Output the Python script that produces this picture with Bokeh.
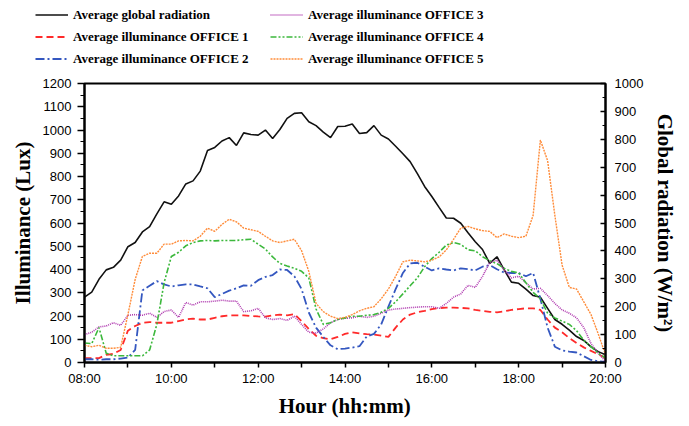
from bokeh.plotting import figure
from bokeh.layouts import column, row
from bokeh.models import Range1d, LinearAxis, FixedTicker, Legend, LegendItem
from bokeh.embed import file_html
from bokeh.resources import INLINE

# sample times (10-minute grid)
times = [f"{h:02d}:{m:02d}" for h in range(8, 20) for m in range(0, 60, 10)] + ["20:00"]

# Average global radiation (W/m2)
radiation = [234, 252, 298, 332, 341, 367,
             415, 430, 468, 487, 533, 576,
             567, 597, 640, 651, 686, 760,
             771, 794, 806, 778, 823, 817,
             815, 833, 803, 835, 875, 893,
             895, 863, 849, 826, 806, 846,
             847, 855, 821, 824, 849, 815,
             801, 775, 748, 720, 677, 631,
             595, 556, 518, 517, 499, 465,
             433, 405, 355, 379, 332, 288,
             284, 263, 240, 234, 194, 154,
             137, 116, 93, 79, 56, 39,
             28]

# Average illuminance (Lux)
office1 = [19, 19, 19, 33, 37, 54,
           137, 157, 171, 174, 171, 171,
           171, 178, 185, 189, 185, 185,
           192, 199, 203, 203, 203, 200,
           198, 197, 203, 206, 203, 208,
           178, 144, 115, 105, 100, 110,
           123, 130, 125, 122, 120, 116,
           110, 150, 185, 206, 216, 222,
           230, 234, 236, 236, 235, 233,
           226, 222, 218, 216, 220, 226,
           230, 233, 233, 226, 185, 150,
           130, 105, 84, 65, 50, 35,
           20]

office2 = [14, 14, 12, 14, 14, 17,
           21, 54, 310, 330, 350, 336,
           327, 332, 336, 336, 327, 319,
           281, 295, 309, 319, 332, 330,
           354, 368, 376, 400, 398, 371,
           316, 215, 150, 110, 74, 57,
           60, 64, 70, 112, 123, 164,
           240, 316, 385, 426, 429, 412,
           396, 405, 400, 396, 405, 401,
           396, 412, 419, 401, 387, 385,
           385, 371, 385, 274, 150, 68,
           52, 47, 43, 27, 11, 5,
           3]

office3 = [120, 130, 153, 157, 171, 160,
           203, 206, 203, 212, 194, 219,
           226, 194, 258, 247, 261, 261,
           264, 268, 264, 264, 219, 222,
           233, 192, 185, 189, 181, 199,
           164, 130, 127, 144, 171, 185,
           190, 192, 199, 194, 199, 212,
           226, 230, 233, 236, 238, 240,
           240, 233, 254, 281, 295, 332,
           323, 370, 430, 440, 398, 364,
           371, 343, 316, 319, 288, 254,
           226, 212, 192, 150, 81, 40,
           5]

office4 = [84, 81, 150, 40, 29, 29,
           29, 29, 29, 54, 164, 343,
           456, 474, 502, 516, 523, 525,
           523, 525, 525, 525, 528, 530,
           509, 488, 454, 426, 415, 405,
           392, 364, 230, 164, 171, 185,
           192, 199, 199, 203, 206, 216,
           233, 261, 295, 330, 364, 412,
           447, 474, 505, 516, 508, 485,
           480, 455, 438, 425, 405, 392,
           385, 343, 302, 274, 212, 192,
           178, 164, 137, 96, 68, 40,
           20]

office5 = [74, 68, 74, 61, 61, 65,
           206, 357, 456, 470, 470, 509,
           509, 523, 525, 523, 543, 578,
           564, 594, 616, 605, 578, 571,
           564, 543, 523, 516, 523, 530,
           481, 392, 254, 219, 199, 189,
           194, 206, 222, 233, 240, 274,
           316, 371, 433, 440, 437, 433,
           440, 454, 484, 530, 578, 585,
           575, 567, 564, 537, 553, 543,
           537, 543, 633, 957, 868, 633,
           419, 323, 316, 261, 206, 123,
           33]

x_tick_hours = [8, 9, 10, 11, 12, 13, 14, 15, 16, 17, 18, 19, 20]
x_tick_labels = {8: "08:00", 9: "", 10: "10:00", 11: "", 12: "12:00", 13: "",
                 14: "14:00", 15: "", 16: "16:00", 17: "", 18: "18:00", 19: "", 20: "20:00"}

legend_labels = ["Average global radiation", "Average illuminance OFFICE 1",
                 "Average illuminance OFFICE 2", "Average illuminance OFFICE 3",
                 "Average illuminance OFFICE 4", "Average illuminance OFFICE 5"]

hours = [int(t[:2]) + int(t[3:]) / 60 for t in times]

SERIF = "Liberation Serif"
SANS = "Liberation Sans"

styles = [
    dict(line_color="#111111", line_width=1.6),
    dict(line_color="#ff2a2a", line_width=1.8, line_dash="7 4"),
    dict(line_color="#3457c0", line_width=1.8, line_dash="9 3 2 3"),
    dict(line_color="#b03cb0", line_width=1.6, line_dash="1 1"),
    dict(line_color="#3cb83c", line_width=1.6, line_dash="6 2 2 2 2 2"),
    dict(line_color="#ff8c3a", line_width=1.4, line_dash="2 1"),
]
series = [radiation, office1, office2, office3, office4, office5]

LEG_H = 70

# ---------------- main chart ----------------
p = figure(width=680, height=420 - LEG_H, output_backend="svg", toolbar_location=None,
           x_range=Range1d(8, 20), y_range=Range1d(0, 1200),
           min_border_left=84, min_border_right=73, min_border_top=83 - LEG_H, min_border_bottom=47)
p.extra_y_ranges = {"rad": Range1d(0, 1000)}
p.xgrid.visible = False
p.ygrid.visible = False
p.outline_line_color = "black"
p.outline_line_width = 2
p.background_fill_color = "white"
p.border_fill_color = "white"

xa = p.xaxis[0]
xa.ticker = FixedTicker(ticks=x_tick_hours)
xa.major_label_overrides = x_tick_labels
xa.axis_label = "Hour (hh:mm)"
ya = p.yaxis[0]
ya.ticker = FixedTicker(ticks=list(range(0, 1201, 100)), minor_ticks=list(range(0, 1201, 50)))
ya.axis_label = "Illuminance (Lux)"
ra = LinearAxis(y_range_name="rad",
                ticker=FixedTicker(ticks=list(range(0, 1001, 100)), minor_ticks=list(range(0, 1001, 50))),
                axis_label="Global radiation (W/m\u00b2)")
p.add_layout(ra, "right")

for ax in (xa, ya, ra):
    ax.axis_line_width = 2
    ax.axis_line_color = "black"
    ax.major_tick_line_width = 1.5
    ax.minor_tick_line_width = 1.2
    ax.major_label_text_font = SANS
    ax.major_label_text_font_size = "13px"
    ax.major_label_text_color = "black"
    ax.axis_label_text_font = SERIF
    ax.axis_label_text_font_style = "bold"
    ax.axis_label_text_font_size = "21px"
    ax.axis_label_text_color = "black"

xa.major_tick_in = 0
xa.major_tick_out = 5
xa.minor_tick_out = 0
xa.minor_tick_in = 0
xa.major_label_standoff = 3
xa.axis_label_standoff = 5

ya.major_tick_in = 0
ya.major_tick_out = 7
ya.minor_tick_in = 0
ya.minor_tick_out = 4
ya.major_label_standoff = 6
ya.axis_label_standoff = 5

ra.major_tick_in = 5
ra.major_tick_out = 0
ra.minor_tick_in = 3
ra.minor_tick_out = 0
ra.major_label_standoff = 9
ra.axis_label_standoff = 7

p.line(hours, radiation, y_range_name="rad", **styles[0])
for vals, st in zip(series[1:], styles[1:]):
    p.line(hours, vals, **st)

# ---------------- legend strip ----------------
lg = figure(width=680, height=LEG_H, output_backend="svg", toolbar_location=None,
            x_axis_type=None, y_axis_type=None,
            x_range=Range1d(100, 101), y_range=Range1d(5000, 5001),
            min_border_left=0, min_border_right=0, min_border_top=0, min_border_bottom=0)
lg.outline_line_color = None
lg.xgrid.visible = False
lg.ygrid.visible = False
lg_renderers = [lg.line(hours, vals, **st) for vals, st in zip(series, styles)]
items = [LegendItem(label=lab, renderers=[r]) for lab, r in zip(legend_labels, lg_renderers)]


def make_legend(its, x):
    return Legend(items=its, location=(x, 1), orientation="vertical",
                  padding=0, margin=0, spacing=1, label_height=21, glyph_height=21,
                  glyph_width=33, label_standoff=5,
                  label_text_font=SERIF, label_text_font_style="bold",
                  label_text_font_size="13px", label_text_color="black",
                  background_fill_alpha=0, border_line_alpha=0)


lg.add_layout(make_legend(items[:3], 35))
lg.add_layout(make_legend(items[3:], 270))

layout = column(row(lg), p, spacing=0)
open("out.html", "w").write(file_html(layout, INLINE))
